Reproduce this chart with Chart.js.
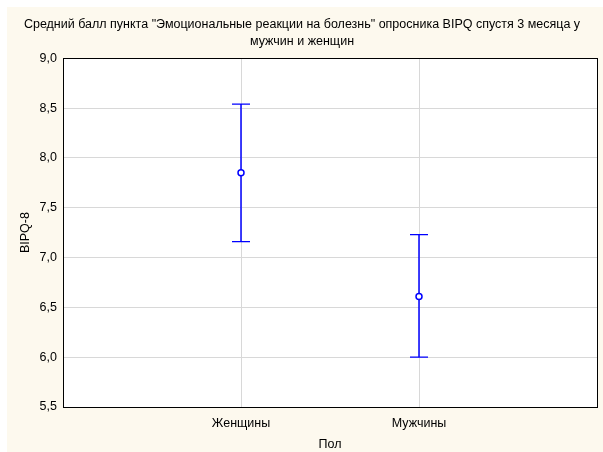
<!DOCTYPE html>
<html>
<head>
<meta charset="utf-8">
<script src="https://cdn.jsdelivr.net/npm/chart.js@4/dist/chart.umd.min.js"></script>
<style>
  html, body { margin: 0; padding: 0; background: #ffffff; }
  #wrap { width: 603px; height: 452px; position: relative; }
</style>
</head>
<body>
<div id="wrap"><canvas id="c" width="603" height="452"></canvas></div>
<script>
// BIPQ-8 means with 95% confidence intervals, by sex
const groups = ['Женщины', 'Мужчины'];
const means = [7.85, 6.61];
const lower = [7.16, 6.00];
const upper = [8.54, 7.23];
const yTicks = [5.5, 6.0, 6.5, 7.0, 7.5, 8.0, 8.5, 9.0];

const BLUE = '#0000ff';
const FONT = 'Liberation Sans, Arial, sans-serif';
const FS = 12.5;

// One vertical whisker per group, capped by horizontal line markers
const whiskers = groups.map((g, i) => ({
  label: g,
  data: [{ x: i + 1, y: lower[i] }, { x: i + 1, y: upper[i] }],
  showLine: true,
  borderColor: BLUE,
  borderWidth: 1.5,
  pointStyle: 'line',
  pointRadius: 9,
  pointBorderWidth: 1.2,
  pointBorderColor: BLUE,
  order: 2
}));

const meanPoints = {
  label: 'mean',
  data: groups.map((g, i) => ({ x: i + 1, y: means[i] })),
  showLine: false,
  pointStyle: 'circle',
  pointRadius: 3,
  pointBorderWidth: 1.5,
  pointBorderColor: BLUE,
  pointBackgroundColor: '#ffffff',
  order: 1
};

// Cream panel, white plot area and black frame
const frame = {
  id: 'frame',
  beforeDraw(chart) {
    const ctx = chart.ctx, a = chart.chartArea;
    ctx.save();
    ctx.fillStyle = '#ffffff';
    ctx.fillRect(0, 0, chart.width, chart.height);
    ctx.fillStyle = '#fdf9ee';
    ctx.fillRect(7, 7, chart.width - 7, chart.height - 7);
    ctx.fillStyle = '#ffffff';
    ctx.fillRect(a.left, a.top, a.right - a.left, a.bottom - a.top);
    ctx.restore();
  },
  beforeDatasetsDraw(chart) {
    const ctx = chart.ctx, a = chart.chartArea;
    ctx.save();
    ctx.strokeStyle = '#000000';
    ctx.lineWidth = 1;
    ctx.strokeRect(Math.round(a.left) + 0.5, Math.round(a.top) + 0.5,
                   Math.round(a.right - a.left), Math.round(a.bottom - a.top));
    ctx.restore();
  }
};

new Chart(document.getElementById('c'), {
  type: 'scatter',
  data: { datasets: [...whiskers, meanPoints] },
  plugins: [frame],
  options: {
    responsive: false,
    animation: false,
    events: [],
    layout: { autoPadding: false, padding: { left: 7, right: 6, top: 0, bottom: 0 } },
    plugins: {
      legend: { display: false },
      tooltip: { enabled: false },
      title: {
        display: true,
        text: ['Средний балл пункта "Эмоциональные реакции на болезнь" опросника BIPQ спустя 3 месяца у',
               'мужчин и женщин'],
        color: '#000000',
        font: { family: FONT, size: FS, weight: 'normal', lineHeight: 1.35 },
        padding: { top: 16, bottom: 8.5 }
      }
    },
    scales: {
      x: {
        type: 'linear',
        min: 0,
        max: groups.length + 1,
        afterBuildTicks(scale) {
          scale.ticks = groups.map((g, i) => ({ value: i + 1 }));
        },
        afterFit(scale) { scale.height = 45; },
        ticks: {
          autoSkip: false,
          maxRotation: 0,
          padding: 9,
          color: '#000000',
          font: { family: FONT, size: FS },
          callback: (v) => groups[v - 1] ?? ''
        },
        grid: { color: '#d8d8d8', drawTicks: false },
        border: { display: false },
        title: {
          display: true,
          text: 'Пол',
          color: '#000000',
          font: { family: FONT, size: FS },
          padding: { top: 5, bottom: 0 }
        }
      },
      y: {
        min: 5.5,
        max: 9.0,
        afterBuildTicks(scale) {
          scale.ticks = yTicks.map(v => ({ value: v }));
        },
        afterFit(scale) { scale.width = 56; },
        ticks: {
          padding: 6,
          color: '#000000',
          font: { family: FONT, size: FS },
          callback: (v) => v.toFixed(1).replace('.', ',')
        },
        grid: { color: '#d8d8d8', drawTicks: false },
        border: { display: false },
        title: {
          display: true,
          text: 'BIPQ-8',
          color: '#000000',
          font: { family: FONT, size: FS },
          padding: { top: 11, bottom: 0 }
        }
      }
    }
  }
});
</script>
</body>
</html>
